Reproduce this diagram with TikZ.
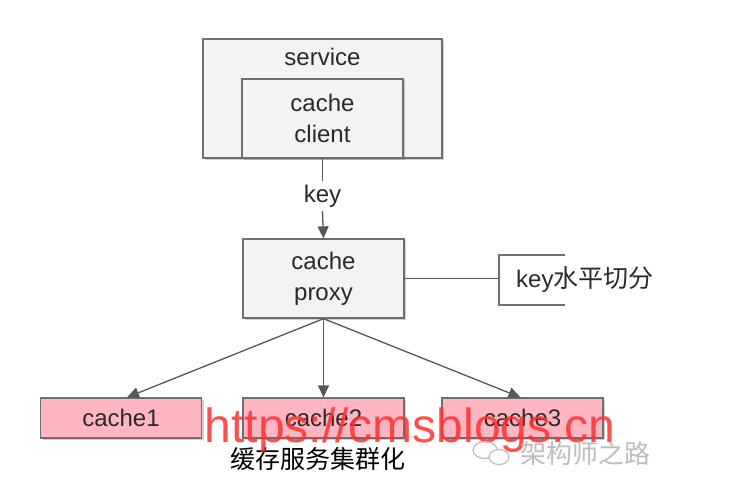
\documentclass[tikz,border=0pt]{standalone}
\usepackage{fontspec}
\setmainfont{Liberation Sans}
\newfontfamily\cjk{Noto Sans CJK SC}
\usetikzlibrary{arrows.meta,shadows,calc}
\definecolor{boxline}{HTML}{6E6E6E}
\definecolor{boxfill}{HTML}{F3F3F3}
\definecolor{pinkfill}{HTML}{FFB6C1}
\definecolor{arrowcol}{HTML}{575757}
\definecolor{txt}{HTML}{2A2A2A}
\definecolor{wmred}{HTML}{FF3030}
\definecolor{wmgray}{HTML}{BDBDBD}
\tikzset{
  basebox/.style={draw=boxline, line width=1.3pt, inner sep=0pt, align=center,
    text=txt, font=\fontsize{24}{31}\selectfont,
    drop shadow={shadow xshift=2pt, shadow yshift=-2pt, fill=black, opacity=0.18}},
  graybox/.style={basebox, fill=boxfill},
  pinkbox/.style={basebox, fill=pinkfill, minimum width=161pt, minimum height=40pt},
  lbl/.style={inner sep=0pt, text=txt, font=\fontsize{24}{31}\selectfont},
  conn/.style={draw=arrowcol, line width=1.3pt},
  arr/.style={conn, -{Triangle[width=11pt,length=12pt]}},
}
\begin{document}
\begin{tikzpicture}[x=1pt,y=-1pt]
\useasboundingbox[fill=white] (0,0) rectangle (730,490);
% service container
\node[graybox, minimum width=239pt, minimum height=119pt] (service) at (322.5,98.5) {};
\node[lbl] (servicelbl) at (322.5,57) {service};
\node[graybox, minimum width=161pt, minimum height=79pt] (client) at (322.5,118.5) {cache\\client};
% key label
\node[lbl, minimum height=30pt] (key) at (322.5,196) {key};
% proxy
\node[graybox, minimum width=161pt, minimum height=79pt] (proxy) at (323.5,278.5) {cache\\proxy};
% caches
\node[pinkbox] (cache1) at (121,418) {cache1};
\node[pinkbox] (cache2) at (323.5,418) {cache2};
\node[pinkbox] (cache3) at (522.5,418) {cache3};
% connectors
\draw[conn] (client.south) -- (key.north);
\draw[arr] (key.south) -- (proxy.north);
\draw[arr] (proxy.south) -- ([xshift=6pt]cache1.north);
\draw[arr] (proxy.south) -- (cache2.north);
\draw[arr] (proxy.south) -- ([xshift=-2pt]cache3.north);
% annotation
\coordinate (bk) at (499,278.5);
\draw[conn] (proxy.east) -- (bk);
\draw[draw=boxline, line width=1.3pt] ($(bk)+(66,-23.5)$) -- ($(bk)+(0,-23.5)$) -- ($(bk)+(0,26.5)$) -- ($(bk)+(66,26.5)$);
\node[lbl, anchor=west] (split) at (516,280) {key{\cjk\fontsize{25}{30}\selectfont 水平切分}};
% caption
\node[inner sep=0pt, text=black, font=\cjk\fontsize{25}{30}\selectfont] (caption) at (318,459) {缓存服务集群化};
% watermarks
\node[inner sep=0pt, anchor=base west, text=wmred, opacity=0.85, font=\fontsize{48}{50}\selectfont] (wm) at (204.5,442) {https://cmsblogs.cn};
\draw[wmgray, line width=1.2pt] (485,450) ellipse [x radius=12pt, y radius=8.5pt];
\draw[wmgray, line width=1.2pt, fill=white] (499,457) ellipse [x radius=10pt, y radius=7.5pt];
\node[inner sep=0pt, text=wmgray, font=\cjk\fontsize{26}{30}\selectfont] (wm2) at (585,454) {架构师之路};
\end{tikzpicture}
\end{document}
